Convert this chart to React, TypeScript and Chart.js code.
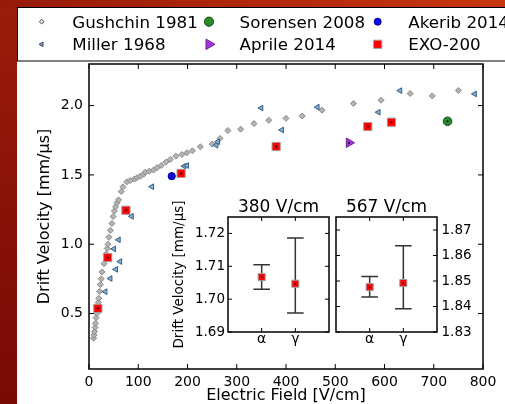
import React, { useEffect, useRef } from 'react';
import { Chart, registerables } from 'chart.js';

Chart.register(...registerables);
Chart.defaults.font.family = 'DejaVu Sans';
Chart.defaults.color = '#000';

// ---------- main panel data ----------
const gushchinX = [9.3, 10.3, 11.2, 12.4, 13.2, 14.4, 16.2, 17.5, 18.8, 19.8, 21.6, 23, 25, 26.3, 30.5, 35, 37, 38.5, 40.5, 43.5, 46.6, 49, 51.5, 54, 57, 60, 65.5, 69, 77, 84, 92.5, 97.5, 104, 110.8, 114.2, 122.3, 131, 138, 146.7, 156.2, 165, 176.5, 188.7, 198.8, 210, 226, 250, 266, 282, 308, 335, 365, 400, 433, 473, 537, 593, 652, 697, 750];
const gushchinY = [0.322, 0.345, 0.37, 0.4, 0.43, 0.47, 0.5, 0.55, 0.58, 0.61, 0.66, 0.71, 0.75, 0.8, 0.86, 0.93, 0.97, 1.0, 1.05, 1.1, 1.15, 1.2, 1.24, 1.27, 1.3, 1.32, 1.38, 1.415, 1.45, 1.46, 1.47, 1.48, 1.49, 1.504, 1.52, 1.527, 1.535, 1.552, 1.568, 1.592, 1.612, 1.635, 1.647, 1.66, 1.674, 1.703, 1.722, 1.763, 1.82, 1.83, 1.87, 1.894, 1.908, 1.925, 1.967, 2.015, 2.038, 2.087, 2.07, 2.109];
const millerX = [33, 43.2, 50.5, 54.5, 60, 63, 86.5, 127.8, 193.3, 198.8, 258.3, 261.7, 349.6, 391.6, 463.8, 587.6, 631.6, 783.1];
const millerY = [0.658, 0.753, 0.966, 0.819, 1.032, 0.875, 1.201, 1.415, 1.563, 1.568, 1.714, 1.739, 1.982, 1.824, 1.989, 1.952, 2.108, 2.084];
const sorensenX = [728];
const sorensenY = [1.887];
const aprileX = [528];
const aprileY = [1.732];
const akeribX = [168];
const akeribY = [1.491];
const exoX = [18, 38, 75, 187, 380, 566, 614];
const exoY = [0.537, 0.904, 1.245, 1.511, 1.705, 1.849, 1.88];

const xTicks = [0, 100, 200, 300, 400, 500, 600, 700, 800];
const yTicks = [0.5, 1.0, 1.5, 2.0];

// ---------- inset data ----------
const insetCats = ['α', 'γ'];
const v380 = [1.7067, 1.7047];
const lo380 = [1.703, 1.6958];
const hi380 = [1.7105, 1.7186];
const ticks380 = [1.69, 1.7, 1.71, 1.72];
const v567 = [1.8476, 1.8492];
const lo567 = [1.8437, 1.8391];
const hi567 = [1.8518, 1.8638];
const ticks567 = [1.83, 1.84, 1.85, 1.86, 1.87];

type Marker = { style: string; r: number; fill: string; stroke: string; rot?: number };

const series = [
  { label: 'Gushchin 1981', xs: gushchinX, ys: gushchinY, order: 6,
    m: { style: 'rectRot', r: 3, fill: '#b4b4b4', stroke: '#8a8a8a' },
    lm: { style: 'rectRot', r: 2.4, fill: '#e0e0e0', stroke: '#555555' } },
  { label: 'Miller 1968', xs: millerX, ys: millerY, order: 5,
    m: { style: 'triangle', rot: -90, r: 3.3, fill: '#7cb0da', stroke: '#3d5f80' },
    lm: { style: 'triangle', rot: -90, r: 2.7, fill: '#7c9cba', stroke: '#3d4f60' } },
  { label: 'Sorensen 2008', xs: sorensenX, ys: sorensenY, order: 4,
    m: { style: 'circle', r: 4.3, fill: '#2a8a2a', stroke: '#1a4a1a' },
    lm: { style: 'circle', r: 4.6, fill: '#2a8a2a', stroke: '#1a4a1a' } },
  { label: 'Aprile 2014', xs: aprileX, ys: aprileY, order: 3,
    m: { style: 'triangle', rot: 90, r: 5.5, fill: '#a535e0', stroke: '#6a2090' },
    lm: { style: 'triangle', rot: 90, r: 6, fill: '#a535e0', stroke: '#6a2090' } },
  { label: 'Akerib 2014', xs: akeribX, ys: akeribY, order: 2,
    m: { style: 'circle', r: 3.6, fill: '#0a0aff', stroke: '#000080' },
    lm: { style: 'circle', r: 3.5, fill: '#0a0aff', stroke: '#000080' } },
  { label: 'EXO-200', xs: exoX, ys: exoY, order: 1,
    m: { style: 'rect', r: 5.8, fill: '#ff0000', stroke: '#a0a0a0' },
    lm: { style: 'rect', r: 5.8, fill: '#ff0000', stroke: '#a0a0a0' } },
];

// legend slots (column-major, like matplotlib)
const legendSlots = [
  [41.7, 21.7], [41.7, 44.3], [209, 21.7], [209, 44.3], [377.7, 21.7], [377.7, 44.3],
];

const toPts = (xs: number[], ys: number[]) => xs.map((x, i) => ({ x, y: ys[i] }));

function drawMarker(ctx: CanvasRenderingContext2D, m: Marker, x: number, y: number) {
  ctx.beginPath();
  if (m.style === 'circle') {
    ctx.arc(x, y, m.r, 0, Math.PI * 2);
  } else if (m.style === 'rect') {
    const s = m.r * Math.SQRT1_2;
    ctx.rect(x - s, y - s, 2 * s, 2 * s);
  } else if (m.style === 'rectRot') {
    ctx.moveTo(x, y - m.r);
    ctx.lineTo(x + m.r, y);
    ctx.lineTo(x, y + m.r);
    ctx.lineTo(x - m.r, y);
    ctx.closePath();
  } else {
    let a = ((m.rot || 0) * Math.PI) / 180;
    for (let k = 0; k < 3; k++) {
      const px = x + Math.sin(a) * m.r;
      const py = y - Math.cos(a) * m.r;
      if (k === 0) ctx.moveTo(px, py);
      else ctx.lineTo(px, py);
      a += (2 * Math.PI) / 3;
    }
    ctx.closePath();
  }
  ctx.fillStyle = m.fill;
  ctx.fill();
  ctx.strokeStyle = m.stroke;
  ctx.lineWidth = 1;
  ctx.stroke();
}

function framePlugin(xt: number[], yt: number[], tl: number, lw: number) {
  return {
    id: 'frameTicks',
    afterDatasetsDraw(chart: any) {
      const { ctx, chartArea: a, scales } = chart;
      ctx.save();
      ctx.strokeStyle = '#000';
      ctx.lineWidth = 1;
      ctx.beginPath();
      for (const v of xt) {
        const p = scales.x.getPixelForValue(v);
        ctx.moveTo(p, a.bottom);
        ctx.lineTo(p, a.bottom - tl);
        ctx.moveTo(p, a.top);
        ctx.lineTo(p, a.top + tl);
      }
      for (const v of yt) {
        const p = scales.y.getPixelForValue(v);
        ctx.moveTo(a.left, p);
        ctx.lineTo(a.left + tl, p);
        ctx.moveTo(a.right, p);
        ctx.lineTo(a.right - tl, p);
      }
      ctx.stroke();
      ctx.lineWidth = lw;
      ctx.strokeRect(a.left, a.top, a.right - a.left, a.bottom - a.top);
      ctx.restore();
    },
  };
}

const backgroundPlugin = {
  id: 'slideBg',
  beforeDraw(chart: any) {
    const { ctx, width, height } = chart;
    ctx.save();
    let g = ctx.createLinearGradient(0, 0, 0, height);
    g.addColorStop(0, '#9b1c0b');
    g.addColorStop(1, '#780905');
    ctx.fillStyle = g;
    ctx.fillRect(0, 0, width, height);
    g = ctx.createLinearGradient(0, 0, width, 0);
    g.addColorStop(0, '#961a0a');
    g.addColorStop(1, '#c8360e');
    ctx.fillStyle = g;
    ctx.fillRect(0, 0, width, 8);
    ctx.fillStyle = '#ffffff';
    ctx.fillRect(17, 7, width - 17, height - 7);
    // legend box
    ctx.strokeStyle = '#000';
    ctx.lineWidth = 1;
    ctx.strokeRect(17.5, 7.5, width + 10, 53.5);
    ctx.font = '16.7px "DejaVu Sans"';
    ctx.textBaseline = 'alphabetic';
    ctx.textAlign = 'left';
    series.forEach((s, i) => {
      const [mx, my] = legendSlots[i];
      drawMarker(ctx, s.lm as Marker, mx, my);
      ctx.fillStyle = '#000';
      ctx.fillText(s.label, mx + 30.6, my + 5.9);
    });
    ctx.restore();
  },
};

function makeMain(canvas: HTMLCanvasElement) {
  const datasets: any[] = series.map((s) => ({
    label: s.label,
    data: toPts(s.xs, s.ys),
    order: s.order,
    pointStyle: s.m.style,
    pointRotation: (s.m as Marker).rot || 0,
    pointRadius: s.m.r,
    pointBackgroundColor: s.m.fill,
    pointBorderColor: s.m.stroke,
    pointBorderWidth: 1,
  }));
  datasets.push({
    label: 'centres',
    data: [
      ...toPts(exoX, exoY),
      ...toPts(sorensenX, sorensenY),
      ...toPts(aprileX, aprileY),
      ...toPts(akeribX, akeribY),
    ],
    order: 0,
    pointStyle: 'circle',
    pointRadius: 1,
    pointBackgroundColor: '#000',
    pointBorderWidth: 0,
  });
  return new Chart(canvas, {
    type: 'scatter',
    data: { datasets },
    options: {
      responsive: false,
      animation: false,
      events: [],
      layout: { padding: { left: 0, right: 22, top: 64, bottom: 0 } },
      plugins: { legend: { display: false }, tooltip: { enabled: false } },
      scales: {
        x: {
          type: 'linear',
          min: 0,
          max: 800,
          afterBuildTicks: (s: any) => { s.ticks = xTicks.map((v) => ({ value: v })); },
          afterFit: (s: any) => { s.height = 35; },
          grid: { display: false, drawTicks: false },
          border: { display: false },
          ticks: { padding: 6, autoSkip: false, maxRotation: 0, color: '#000', font: { size: 14, lineHeight: 1 }, callback: (v: any) => String(v) },
          title: { display: true, text: 'Electric Field [V/cm]', color: '#000', font: { size: 16, lineHeight: 1 }, padding: { top: 0, bottom: 0.5 } },
        },
        y: {
          type: 'linear',
          min: 0.1,
          max: 2.3,
          afterBuildTicks: (s: any) => { s.ticks = yTicks.map((v) => ({ value: v })); },
          afterFit: (s: any) => { s.width = 89; },
          grid: { display: false, drawTicks: false },
          border: { display: false },
          ticks: { padding: 6, autoSkip: false, color: '#000', font: { size: 14, lineHeight: 1 }, callback: (v: any) => Number(v).toFixed(1) },
          title: { display: true, text: 'Drift Velocity [mm/μs]', color: '#000', font: { size: 16, lineHeight: 1 }, padding: { top: 36.5, bottom: 0 } },
        },
      },
    } as any,
    plugins: [backgroundPlugin, framePlugin(xTicks, yTicks, 5, 1.5)],
  });
}

function makeInset(
  canvas: HTMLCanvasElement,
  title: string,
  vals: number[],
  lo: number[],
  hi: number[],
  yt: number[],
  yMin: number,
  yMax: number,
  side: 'left' | 'right',
) {
  const deco = {
    id: 'insetDeco',
    beforeDraw(chart: any) {
      const { ctx, chartArea: a } = chart;
      ctx.save();
      ctx.fillStyle = '#fff';
      ctx.fillRect(a.left, a.top, a.right - a.left, a.bottom - a.top);
      ctx.fillStyle = '#000';
      ctx.font = '17px "DejaVu Sans"';
      ctx.textAlign = 'center';
      ctx.textBaseline = 'alphabetic';
      ctx.fillText(title, (a.left + a.right) / 2, 26.7);
      ctx.restore();
    },
    beforeDatasetsDraw(chart: any) {
      const { ctx, scales } = chart;
      ctx.save();
      ctx.strokeStyle = '#333';
      ctx.lineWidth = 1.5;
      ctx.beginPath();
      vals.forEach((_, i) => {
        const px = scales.x.getPixelForValue(i + 1);
        const pl = scales.y.getPixelForValue(lo[i]);
        const ph = scales.y.getPixelForValue(hi[i]);
        ctx.moveTo(px, pl);
        ctx.lineTo(px, ph);
        ctx.moveTo(px - 8.3, pl);
        ctx.lineTo(px + 8.3, pl);
        ctx.moveTo(px - 8.3, ph);
        ctx.lineTo(px + 8.3, ph);
      });
      ctx.stroke();
      ctx.restore();
    },
  };
  const pts = vals.map((v, i) => ({ x: i + 1, y: v }));
  return new Chart(canvas, {
    type: 'scatter',
    data: {
      datasets: [
        { label: 'centre', data: pts, order: 0, pointStyle: 'circle', pointRadius: 0.9, pointBackgroundColor: '#000', pointBorderWidth: 0 },
        { label: 'EXO-200', data: pts, order: 1, pointStyle: 'rect', pointRadius: 5, pointBackgroundColor: '#ff0000', pointBorderColor: '#a0a0a0', pointBorderWidth: 1 },
      ],
    },
    options: {
      responsive: false,
      animation: false,
      events: [],
      layout: { padding: side === 'left' ? { left: 0, right: 11, top: 32, bottom: 0 } : { left: 5, right: 0, top: 32, bottom: 0 } },
      plugins: { legend: { display: false }, tooltip: { enabled: false } },
      scales: {
        x: {
          type: 'linear',
          min: 0,
          max: 3,
          afterBuildTicks: (s: any) => { s.ticks = insetCats.map((_, i) => ({ value: i + 1 })); },
          afterFit: (s: any) => { s.height = 18; },
          grid: { display: false, drawTicks: false },
          border: { display: false },
          ticks: { padding: 0, autoSkip: false, maxRotation: 0, color: '#000', font: { size: 14, lineHeight: 1 }, callback: (v: any) => insetCats[Number(v) - 1] ?? '' },
        },
        y: {
          type: 'linear',
          position: side,
          min: yMin,
          max: yMax,
          afterBuildTicks: (s: any) => { s.ticks = yt.map((v) => ({ value: v })); },
          afterFit: (s: any) => { s.width = side === 'left' ? 68 : 43; },
          grid: { display: false, drawTicks: false },
          border: { display: false },
          ticks: { padding: side === 'left' ? 3 : 4.5, autoSkip: false, color: '#000', font: { size: 13.5, lineHeight: 1 }, callback: (v: any) => Number(v).toFixed(2) },
          title: side === 'left'
            ? { display: true, text: 'Drift Velocity [mm/μs]', color: '#000', font: { size: 13.5, lineHeight: 1 }, padding: { top: 12.5, bottom: 0 } }
            : { display: false },
        },
      },
    } as any,
    plugins: [deco, framePlugin(insetCats.map((_, i) => i + 1), yt, 4, 1.5)],
  });
}

export default function App() {
  const mainRef = useRef<HTMLCanvasElement>(null);
  const leftRef = useRef<HTMLCanvasElement>(null);
  const rightRef = useRef<HTMLCanvasElement>(null);

  useEffect(() => {
    const charts = [
      makeMain(mainRef.current!),
      makeInset(leftRef.current!, '380 V/cm', v380, lo380, hi380, ticks380, 1.69, 1.725, 'left'),
      makeInset(rightRef.current!, '567 V/cm', v567, lo567, hi567, ticks567, 1.83, 1.8751, 'right'),
    ];
    return () => charts.forEach((c) => c.destroy());
  }, []);

  return (
    <div style={{ position: 'fixed', left: 0, top: 0, width: 505, height: 404, overflow: 'hidden', background: '#fff' }}>
      <canvas ref={mainRef} width={505} height={404} style={{ position: 'absolute', left: 0, top: 0 }} />
      <canvas ref={leftRef} width={180} height={165} style={{ position: 'absolute', left: 160, top: 185 }} />
      <canvas ref={rightRef} width={150} height={165} style={{ position: 'absolute', left: 330, top: 185 }} />
    </div>
  );
}
